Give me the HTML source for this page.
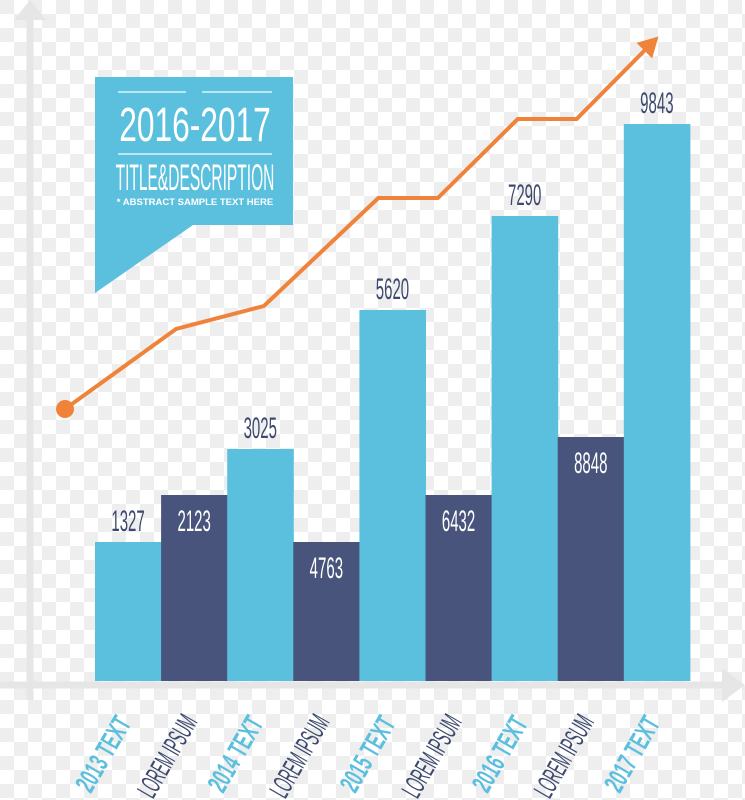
<!DOCTYPE html>
<html><head><meta charset="utf-8"><style>
html,body{margin:0;padding:0;width:745px;height:800px;overflow:hidden;background:#fff}
svg{display:block}
</style></head><body>
<svg id="chart" width="745" height="800" viewBox="0 0 745 800" xmlns="http://www.w3.org/2000/svg">
<defs>
<pattern id="checker" width="28" height="28" patternUnits="userSpaceOnUse">
<rect width="28" height="28" fill="#ffffff"/>
<rect x="0" y="0" width="14" height="14" fill="#eeeeee"/>
<rect x="14" y="14" width="14" height="14" fill="#eeeeee"/>
</pattern>
</defs>
<rect width="745" height="800" fill="url(#checker)"/>
<g>
<line x1="30" y1="20" x2="30" y2="700" stroke="#e6e6e6" stroke-width="7"/>
<polygon points="30,0 14,20 46,20" fill="#e6e6e6"/>
</g>
<g>
<line x1="0" y1="685" x2="725" y2="685" stroke="#e6e6e6" stroke-width="7"/>
<polygon points="745,685 722,668 722,702" fill="#e6e6e6"/>
</g>
<g id="bars"></g>
<g id="labels"></g>
<g id="xlabels"></g>
<g id="trend"></g>
<g>
<polygon points="95,77 293,77 293,225 193,225 95,293" fill="#5bc0de"/>
<line x1="118" y1="92" x2="186" y2="92" stroke="#ffffff" stroke-width="1.5" opacity="0.8"/>
<line x1="202" y1="92" x2="272" y2="92" stroke="#ffffff" stroke-width="1.5" opacity="0.8"/>
<line x1="118" y1="154" x2="272" y2="154" stroke="#ffffff" stroke-width="1.5" opacity="0.8"/>
<text transform="translate(195,141) scale(0.66,1)" text-anchor="middle" font-family="Liberation Sans, sans-serif" font-size="48" fill="#fff">2016-2017</text>
<text transform="translate(195,190) scale(0.42,1)" text-anchor="middle" font-family="Liberation Sans, sans-serif" font-size="37" fill="#fff">TITLE&amp;DESCRIPTION</text>
<text x="195" y="205" text-anchor="middle" font-family="Liberation Sans, sans-serif" font-size="9.5" font-weight="bold" fill="#fff">* ABSTRACT SAMPLE TEXT HERE</text>
</g>
</svg>
<script>
const categories = ["2013 TEXT","LOREM IPSUM","2014 TEXT","LOREM IPSUM","2015 TEXT","LOREM IPSUM","2016 TEXT","LOREM IPSUM","2017 TEXT"];
const printedValues = ["1327","2123","3025","4763","5620","6432","7290","8848","9843"];
const barLevels = [139,186,232,139,371,186,465,244,557];
const trendValues = [272,352,375,483,483,562,562,636];
const trendX = [0,1.68,3.01,4.74,5.64,6.85,7.74,8.85];

const NS="http://www.w3.org/2000/svg";
const x0=95, bw=66.1, base=681;
const xScale=i=>x0+i*bw;
const yScale=v=>base-v;
const trendXScale=u=>65+u*bw;
const LIGHT="#5bc0de", DARK="#48547c";
const bars=document.getElementById('bars'), labels=document.getElementById('labels'), xl=document.getElementById('xlabels'), trend=document.getElementById('trend');
function mk(t,a){const e=document.createElementNS(NS,t);for(const k in a)e.setAttribute(k,a[k]);return e;}
categories.forEach((c,i)=>{
  const dark=i%2===1;
  const r=mk('rect',{x:xScale(i),y:yScale(barLevels[i]),width:bw+0.5,height:barLevels[i],fill:dark?DARK:LIGHT});
  
  
  bars.appendChild(r);
  const cx=xScale(i)+bw/2;
  const ly=dark?yScale(barLevels[i])+36:yScale(barLevels[i])-11;
  const t=mk('text',{transform:`translate(${cx},${ly}) scale(0.5,1)`,'text-anchor':'middle','font-family':'Liberation Sans, sans-serif','font-size':'30',fill:dark?'#fff':'#3d4a6e'});
  t.textContent=printedValues[i];
  
  
  labels.appendChild(t);
  const lx=dark?cx-25:cx-23;
  const g=mk('text',{transform:`translate(${lx},${dark?757:755}) rotate(-60) scale(${dark?0.46:0.58},1)`,'text-anchor':'middle','dominant-baseline':'middle','font-family':'Liberation Sans, sans-serif','font-size':'28',fill:dark?'#3d4a6e':LIGHT,'font-weight':dark?'normal':'bold'});
  g.textContent=c;
  
  
  xl.appendChild(g);
});
const pts=trendValues.map((v,i)=>[trendXScale(trendX[i]), yScale(v)]);
const pl=mk('polyline',{points:pts.map(p=>p.join(',')).join(' '),fill:'none',stroke:'#f0833a','stroke-width':4,'stroke-linejoin':'miter'});


trend.appendChild(pl);
const a=pts[pts.length-2], b=pts[pts.length-1];
const dx=b[0]-a[0], dy=b[1]-a[1], L=Math.hypot(dx,dy), ux=dx/L, uy=dy/L, px=-uy, py=ux;
const tip=[b[0]+ux*12,b[1]+uy*12], bs=[b[0]-ux*8,b[1]-uy*8];
const ah=mk('polygon',{points:`${tip[0]},${tip[1]} ${bs[0]+px*11},${bs[1]+py*11} ${bs[0]-px*11},${bs[1]-py*11}`,fill:'#f0833a'});


trend.appendChild(ah);
const dot=mk('circle',{cx:pts[0][0],cy:pts[0][1],r:9,fill:'#f0833a'});


trend.appendChild(dot);
</script>
</body></html>
